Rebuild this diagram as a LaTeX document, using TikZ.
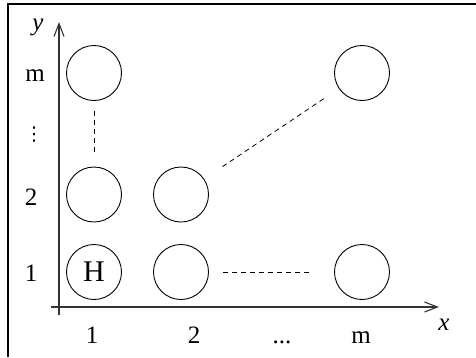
\documentclass[tikz,border=0pt]{standalone}
\usepackage{fontspec}
\setmainfont{Liberation Serif}
\newfontfamily\dotsfont{DejaVu Sans}
\usetikzlibrary{arrows.meta,positioning}

\begin{document}
\begin{tikzpicture}[x=1pt,y=-1pt,
  cell/.style={circle,draw,line width=0.9pt,minimum size=55pt,inner sep=0pt},
  lbl/.style={font=\fontsize{25}{28}\selectfont},
  link/.style={dash pattern=on 5pt off 4pt,line width=0.8pt}]
  \useasboundingbox (0,0) rectangle (476,357);
  % frame (only top and left edges inside the page)
  \draw[line width=1.3pt] (8,357) -- (8,4) -- (476,4);
  % axes
  \coordinate (ybot) at (59,315);
  \coordinate (ytop) at (59,22);
  \coordinate (xleft) at (51,307);
  \coordinate (xright) at (439,307);
  \draw[black!80,line width=1.1pt,-{Straight Barb[length=13pt,width=10pt]}] (ybot) -- (ytop);
  \draw[black!80,line width=1.1pt,-{Straight Barb[length=13pt,width=10pt]}] (xleft) -- (xright);
  \node[lbl,font=\fontsize{25}{28}\selectfont\itshape] (ylab) at (38,27) {y};
  \node[lbl,font=\fontsize{25}{28}\selectfont\itshape] (xlab) at (444,325) {x};
  % row labels
  \node[lbl] (rm) at (35,76) {m};
  \node[font=\dotsfont\fontsize{19}{22}\selectfont] (rdots) at (34,135) {⋮};
  \node[lbl] (r2) at (31,197) {2};
  \node[lbl] (r1) at (31,273) {1};
  % column labels
  \node[lbl,anchor=base] (k1) at (92,343) {1};
  \node[lbl,anchor=base] (k2) at (194,343) {2};
  \node[lbl,anchor=base] (kdots) at (282,343) {...};
  \node[lbl,anchor=base] (km) at (361,343) {m};
  % cells
  \node[cell,font=\fontsize{30}{34}\selectfont] (c11) at (94,272) {H};
  \node[cell] (c21) at (181,272) {};
  \node[cell] (cm1) at (362,272) {};
  \node[cell] (c12) at (94,194.5) {};
  \node[cell] (c22) at (181,194.5) {};
  \node[cell] (c1m) at (94,73) {};
  \node[cell] (cmm) at (362,73) {};
  % dashed links
  \draw[link,shorten <=15pt,shorten >=8pt] (c12) -- (c1m);
  \draw[link,shorten <=14.5pt,shorten >=23.5pt] (c21) -- (cm1);
  \draw[link,shorten <=22pt,shorten >=14.5pt] (c22) -- (cmm);
\end{tikzpicture}
\end{document}
